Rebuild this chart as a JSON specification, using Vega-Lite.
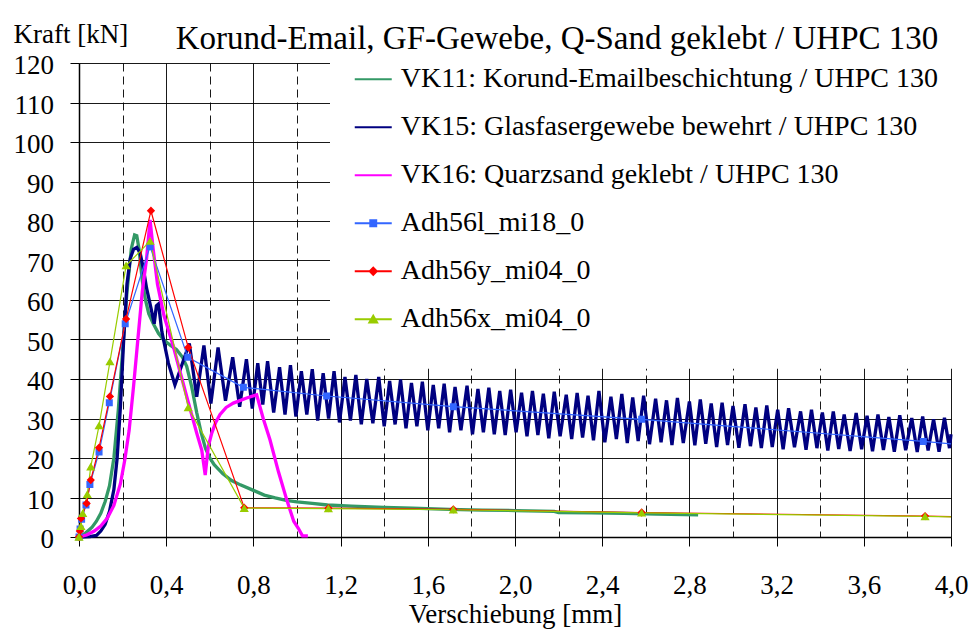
{
"$schema": "https://vega.github.io/schema/vega-lite/v6.json",
"width": 872, "height": 474,
"autosize": {"type": "none"},
"padding": {"left": 79, "top": 63, "right": 21, "bottom": 99},
"background": "white",
"config": {"view": {"stroke": null}, "font": "Liberation Serif"},
"title": {"text": "Korund-Email, GF-Gewebe, Q-Sand geklebt / UHPC 130", "font": "Liberation Serif", "fontSize": 33, "fontWeight": "normal", "color": "black", "anchor": "middle", "frame": "group", "dx": 42, "dy": 27, "offset": -35, "baseline": "alphabetic"},
"datasets": {
"vk": [
{"s":"VK11","x":0,"y":0},{"s":"VK11","x":0.03,"y":1},{"s":"VK11","x":0.06,"y":2.5},{"s":"VK11","x":0.08,"y":4},{"s":"VK11","x":0.1,"y":6},{"s":"VK11","x":0.12,"y":9},{"s":"VK11","x":0.14,"y":13},{"s":"VK11","x":0.16,"y":20},{"s":"VK11","x":0.18,"y":32},{"s":"VK11","x":0.2,"y":47},{"s":"VK11","x":0.22,"y":62},{"s":"VK11","x":0.24,"y":73},{"s":"VK11","x":0.255,"y":76.5},{"s":"VK11","x":0.265,"y":76.3},{"s":"VK11","x":0.275,"y":73},{"s":"VK11","x":0.29,"y":65},{"s":"VK11","x":0.305,"y":60},{"s":"VK11","x":0.32,"y":56.5},{"s":"VK11","x":0.341,"y":54},{"s":"VK11","x":0.365,"y":51.5},{"s":"VK11","x":0.387,"y":50},{"s":"VK11","x":0.42,"y":48.5},{"s":"VK11","x":0.448,"y":47.4},{"s":"VK11","x":0.475,"y":45.5},{"s":"VK11","x":0.494,"y":43.2},{"s":"VK11","x":0.517,"y":38},{"s":"VK11","x":0.54,"y":31.5},{"s":"VK11","x":0.56,"y":26.5},{"s":"VK11","x":0.58,"y":22.5},{"s":"VK11","x":0.6,"y":20},{"s":"VK11","x":0.62,"y":18.3},{"s":"VK11","x":0.66,"y":16},{"s":"VK11","x":0.7,"y":14.3},{"s":"VK11","x":0.74,"y":13.2},{"s":"VK11","x":0.8,"y":11.8},{"s":"VK11","x":0.85,"y":10.6},{"s":"VK11","x":0.9,"y":9.9},{"s":"VK11","x":0.95,"y":9.3},{"s":"VK11","x":1.0,"y":8.9},{"s":"VK11","x":1.07,"y":8.5},{"s":"VK11","x":1.14,"y":8.1},{"s":"VK11","x":1.25,"y":7.8},{"s":"VK11","x":1.4,"y":7.5},{"s":"VK11","x":1.53,"y":7.3},{"s":"VK11","x":1.7,"y":7.0},{"s":"VK11","x":1.85,"y":6.8},{"s":"VK11","x":2.0,"y":6.7},{"s":"VK11","x":2.18,"y":6.5},{"s":"VK11","x":2.2,"y":6.2},{"s":"VK11","x":2.35,"y":6.1},{"s":"VK11","x":2.5,"y":6.0},{"s":"VK11","x":2.65,"y":5.8},{"s":"VK11","x":2.84,"y":5.6},
{"s":"VK15","x":0,"y":0},{"s":"VK15","x":0.05,"y":0.1},{"s":"VK15","x":0.08,"y":0.4},{"s":"VK15","x":0.1,"y":1.5},{"s":"VK15","x":0.12,"y":3.2},{"s":"VK15","x":0.14,"y":6.5},{"s":"VK15","x":0.16,"y":12},{"s":"VK15","x":0.175,"y":20},{"s":"VK15","x":0.19,"y":33},{"s":"VK15","x":0.205,"y":50},{"s":"VK15","x":0.22,"y":64},{"s":"VK15","x":0.235,"y":70.5},{"s":"VK15","x":0.25,"y":72.8},{"s":"VK15","x":0.265,"y":73.3},{"s":"VK15","x":0.28,"y":72},{"s":"VK15","x":0.295,"y":68},{"s":"VK15","x":0.31,"y":63},{"s":"VK15","x":0.33,"y":58},{"s":"VK15","x":0.345,"y":54},{"s":"VK15","x":0.355,"y":58.5},{"s":"VK15","x":0.365,"y":59},{"s":"VK15","x":0.38,"y":52},{"s":"VK15","x":0.41,"y":44},{"s":"VK15","x":0.44,"y":38.5},
{"s":"VK15","x":0.506,"y":49},{"s":"VK15","x":0.54,"y":35.5},{"s":"VK15","x":0.573,"y":48.5},{"s":"VK15","x":0.605,"y":33.8},{"s":"VK15","x":0.638,"y":48},{"s":"VK15","x":0.672,"y":34.5},{"s":"VK15","x":0.705,"y":45.5},{"s":"VK15","x":0.737,"y":33},{"s":"VK15","x":0.768,"y":45},{"s":"VK15","x":0.795,"y":32.5},{"s":"VK15","x":0.82,"y":44},{"s":"VK15","x":0.843,"y":33.5},{"s":"VK15","x":0.865,"y":44.5},{"s":"VK15","x":0.893,"y":31.5},{"s":"VK15","x":0.92,"y":43},{"s":"VK15","x":0.945,"y":31},{"s":"VK15","x":0.97,"y":43.5},{"s":"VK15","x":0.995,"y":30.5},{"s":"VK15","x":1.02,"y":42},{"s":"VK15","x":1.045,"y":31},{"s":"VK15","x":1.07,"y":42.5},{"s":"VK15","x":1.095,"y":29.5},{"s":"VK15","x":1.12,"y":41.5},{"s":"VK15","x":1.145,"y":30},{"s":"VK15","x":1.17,"y":42},{"s":"VK15","x":1.195,"y":29},{"s":"VK15","x":1.22,"y":40.5},{"s":"VK15","x":1.245,"y":29.5},{"s":"VK15","x":1.27,"y":41},{"s":"VK15","x":1.295,"y":28.5},{"s":"VK15","x":1.32,"y":40},{"s":"VK15","x":1.348,"y":28.8},{"s":"VK15","x":1.375,"y":40.5},{"s":"VK15","x":1.4,"y":28},{"s":"VK15","x":1.425,"y":39.5},{"s":"VK15","x":1.45,"y":28.5},{"s":"VK15","x":1.475,"y":39.8},{"s":"VK15","x":1.5,"y":27.5},{"s":"VK15","x":1.525,"y":39},{"s":"VK15","x":1.55,"y":28},{"s":"VK15","x":1.575,"y":39.3},{"s":"VK15","x":1.6,"y":27},{"s":"VK15","x":1.625,"y":38.5},{"s":"VK15","x":1.65,"y":27.5},{"s":"VK15","x":1.675,"y":38.8},{"s":"VK15","x":1.7,"y":26.5},{"s":"VK15","x":1.725,"y":38},{"s":"VK15","x":1.752,"y":27},{"s":"VK15","x":1.78,"y":38.3},{"s":"VK15","x":1.805,"y":26},{"s":"VK15","x":1.83,"y":37.5},{"s":"VK15","x":1.855,"y":26.5},{"s":"VK15","x":1.88,"y":37.8},{"s":"VK15","x":1.905,"y":26},{"s":"VK15","x":1.93,"y":37},{"s":"VK15","x":1.955,"y":25.8},{"s":"VK15","x":1.98,"y":37.3},{"s":"VK15","x":2.005,"y":26.5},{"s":"VK15","x":2.03,"y":36.5},{"s":"VK15","x":2.055,"y":25.5},{"s":"VK15","x":2.08,"y":37},{"s":"VK15","x":2.105,"y":25.8},{"s":"VK15","x":2.13,"y":36.3},{"s":"VK15","x":2.155,"y":25},{"s":"VK15","x":2.18,"y":36.8},{"s":"VK15","x":2.207,"y":25.5},{"s":"VK15","x":2.235,"y":36},{"s":"VK15","x":2.26,"y":24.8},{"s":"VK15","x":2.285,"y":36.5},{"s":"VK15","x":2.31,"y":25.2},{"s":"VK15","x":2.335,"y":35.8},{"s":"VK15","x":2.36,"y":24.5},{"s":"VK15","x":2.385,"y":37},{"s":"VK15","x":2.412,"y":24},{"s":"VK15","x":2.44,"y":35.5},{"s":"VK15","x":2.465,"y":24.8},{"s":"VK15","x":2.49,"y":36.2},{"s":"VK15","x":2.515,"y":23.8},{"s":"VK15","x":2.54,"y":35.3},{"s":"VK15","x":2.565,"y":24.3},{"s":"VK15","x":2.59,"y":35.8},{"s":"VK15","x":2.617,"y":23.5},{"s":"VK15","x":2.645,"y":35},{"s":"VK15","x":2.67,"y":24},{"s":"VK15","x":2.695,"y":34.6},{"s":"VK15","x":2.72,"y":23.3},{"s":"VK15","x":2.745,"y":35.2},{"s":"VK15","x":2.772,"y":23.8},{"s":"VK15","x":2.8,"y":34.3},{"s":"VK15","x":2.825,"y":23.2},{"s":"VK15","x":2.85,"y":34.8},{"s":"VK15","x":2.875,"y":23.6},{"s":"VK15","x":2.9,"y":33.8},{"s":"VK15","x":2.925,"y":22.8},{"s":"VK15","x":2.95,"y":34},{"s":"VK15","x":2.975,"y":23.3},{"s":"VK15","x":3.0,"y":33.2},{"s":"VK15","x":3.027,"y":22.6},{"s":"VK15","x":3.055,"y":33.6},{"s":"VK15","x":3.08,"y":23},{"s":"VK15","x":3.105,"y":32.8},{"s":"VK15","x":3.13,"y":22.5},{"s":"VK15","x":3.155,"y":33.3},{"s":"VK15","x":3.18,"y":22.8},{"s":"VK15","x":3.205,"y":32.2},{"s":"VK15","x":3.23,"y":22.2},{"s":"VK15","x":3.255,"y":32.6},{"s":"VK15","x":3.282,"y":22.7},{"s":"VK15","x":3.31,"y":31.8},{"s":"VK15","x":3.335,"y":22.1},{"s":"VK15","x":3.36,"y":32.2},{"s":"VK15","x":3.385,"y":22.5},{"s":"VK15","x":3.41,"y":31.5},{"s":"VK15","x":3.435,"y":21.9},{"s":"VK15","x":3.46,"y":31.8},{"s":"VK15","x":3.485,"y":22.3},{"s":"VK15","x":3.51,"y":31},{"s":"VK15","x":3.537,"y":21.8},{"s":"VK15","x":3.565,"y":31.4},{"s":"VK15","x":3.59,"y":22.2},{"s":"VK15","x":3.615,"y":30.7},{"s":"VK15","x":3.64,"y":21.7},{"s":"VK15","x":3.665,"y":31},{"s":"VK15","x":3.69,"y":22},{"s":"VK15","x":3.715,"y":30.4},{"s":"VK15","x":3.74,"y":21.6},{"s":"VK15","x":3.765,"y":30.8},{"s":"VK15","x":3.792,"y":22},{"s":"VK15","x":3.82,"y":30.1},{"s":"VK15","x":3.845,"y":21.5},{"s":"VK15","x":3.87,"y":30.5},{"s":"VK15","x":3.895,"y":21.9},{"s":"VK15","x":3.92,"y":29.8},{"s":"VK15","x":3.945,"y":21.6},{"s":"VK15","x":3.97,"y":30.2},{"s":"VK15","x":3.993,"y":22.5},{"s":"VK15","x":4.0,"y":26},
{"s":"VK16","x":0,"y":0},{"s":"VK16","x":0.035,"y":0.5},{"s":"VK16","x":0.07,"y":1.5},{"s":"VK16","x":0.1,"y":2.8},{"s":"VK16","x":0.13,"y":4.8},{"s":"VK16","x":0.16,"y":8},{"s":"VK16","x":0.19,"y":13.5},{"s":"VK16","x":0.21,"y":19.5},{"s":"VK16","x":0.23,"y":27},{"s":"VK16","x":0.25,"y":38},{"s":"VK16","x":0.27,"y":50},{"s":"VK16","x":0.29,"y":62},{"s":"VK16","x":0.31,"y":70.5},{"s":"VK16","x":0.326,"y":80.3},{"s":"VK16","x":0.34,"y":73},{"s":"VK16","x":0.36,"y":64},{"s":"VK16","x":0.39,"y":56},{"s":"VK16","x":0.433,"y":48.2},{"s":"VK16","x":0.47,"y":40.5},{"s":"VK16","x":0.494,"y":35.6},{"s":"VK16","x":0.54,"y":26.3},{"s":"VK16","x":0.563,"y":22},{"s":"VK16","x":0.579,"y":15.7},{"s":"VK16","x":0.593,"y":22.9},{"s":"VK16","x":0.609,"y":26.3},{"s":"VK16","x":0.627,"y":29},{"s":"VK16","x":0.647,"y":31},{"s":"VK16","x":0.675,"y":32.8},{"s":"VK16","x":0.708,"y":33.9},{"s":"VK16","x":0.769,"y":35.2},{"s":"VK16","x":0.815,"y":36},{"s":"VK16","x":0.845,"y":30},{"s":"VK16","x":0.876,"y":24.6},{"s":"VK16","x":0.915,"y":16.5},{"s":"VK16","x":0.953,"y":9.4},{"s":"VK16","x":0.985,"y":4},{"s":"VK16","x":1.006,"y":2.2},{"s":"VK16","x":1.025,"y":0.3},{"s":"VK16","x":1.05,"y":0.3}
],
"adh": [
{"s":"Adh56l","x":0,"y":0},{"s":"Adh56l","x":0.005,"y":2},{"s":"Adh56l","x":0.012,"y":4.5},{"s":"Adh56l","x":0.032,"y":8.1},{"s":"Adh56l","x":0.05,"y":13.3},{"s":"Adh56l","x":0.092,"y":21.5},{"s":"Adh56l","x":0.139,"y":34},{"s":"Adh56l","x":0.212,"y":54},{"s":"Adh56l","x":0.326,"y":73.5},{"s":"Adh56l","x":0.499,"y":45.5},{"s":"Adh56l","x":0.754,"y":37.9},{"s":"Adh56l","x":1.136,"y":35.7},{"s":"Adh56l","x":1.717,"y":33},{"s":"Adh56l","x":2.581,"y":29.8},{"s":"Adh56l","x":3.873,"y":24.2},{"s":"Adh56l","x":4.0,"y":23.6},
{"s":"Adh56y","x":0,"y":0},{"s":"Adh56y","x":0.004,"y":1.5},{"s":"Adh56y","x":0.009,"y":4.7},{"s":"Adh56y","x":0.035,"y":8.5},{"s":"Adh56y","x":0.054,"y":14.4},{"s":"Adh56y","x":0.092,"y":22.6},{"s":"Adh56y","x":0.142,"y":35.6},{"s":"Adh56y","x":0.216,"y":55.2},{"s":"Adh56y","x":0.33,"y":82.6},{"s":"Adh56y","x":0.501,"y":48},{"s":"Adh56y","x":0.758,"y":7.4},{"s":"Adh56y","x":1.144,"y":7.3},{"s":"Adh56y","x":1.717,"y":7.0},{"s":"Adh56y","x":2.581,"y":6.2},{"s":"Adh56y","x":3.881,"y":5.3},{"s":"Adh56y","x":4.0,"y":5.15},
{"s":"Adh56x","x":0,"y":0},{"s":"Adh56x","x":0.009,"y":2.7},{"s":"Adh56x","x":0.017,"y":6},{"s":"Adh56x","x":0.038,"y":10.8},{"s":"Adh56x","x":0.054,"y":17.8},{"s":"Adh56x","x":0.092,"y":28.2},{"s":"Adh56x","x":0.142,"y":44.4},{"s":"Adh56x","x":0.216,"y":68.7},{"s":"Adh56x","x":0.326,"y":74.9},{"s":"Adh56x","x":0.501,"y":32.8},{"s":"Adh56x","x":0.758,"y":7.3},{"s":"Adh56x","x":1.144,"y":7.2},{"s":"Adh56x","x":1.717,"y":6.9},{"s":"Adh56x","x":2.581,"y":6.1},{"s":"Adh56x","x":3.881,"y":5.2},{"s":"Adh56x","x":4.0,"y":5.1}
]
},
"encoding": {
  "x": {"field": "x", "type": "quantitative",
    "scale": {"domain": [0, 4], "nice": false, "zero": false},
    "axis": {
      "values": [0,0.2,0.4,0.6,0.8,1.0,1.2,1.4,1.6,1.8,2.0,2.2,2.4,2.6,2.8,3.0,3.2,3.4,3.6,3.8,4.0],
      "labelExpr": "round(datum.value*10) % 4 == 0 ? replace(format(datum.value, '.1f'), '.', ',') : ''",
      "labelOverlap": false, "labelFlush": false,
      "labelFont": "Liberation Serif", "labelFontSize": 27, "labelColor": "black",
      "labelBaseline": "alphabetic", "labelPadding": 47,
      "tickSize": 9, "tickColor": "black", "tickWidth": 1,
      "tickOpacity": {"condition": {"test": "round(datum.value*10) % 4 == 0", "value": 1}, "value": 0},
      "domainColor": "black", "domainWidth": 1.5,
      "grid": true, "gridColor": "black", "gridWidth": 1, "gridOpacity": 0.9,
      "gridDash": {"condition": {"test": "round(datum.value*10) % 4 == 2", "value": [8, 5]}, "value": []},
      "title": "Verschiebung [mm]", "titleFont": "Liberation Serif", "titleFontSize": 27, "titleFontWeight": "normal", "titleColor": "black",
      "titleX": 436, "titleY": 85, "titleAlign": "center", "titleBaseline": "alphabetic"
    }},
  "y": {"field": "y", "type": "quantitative",
    "scale": {"domain": [0, 120], "nice": false},
    "axis": {
      "values": [0,10,20,30,40,50,60,70,80,90,100,110,120],
      "labelFont": "Liberation Serif", "labelFontSize": 27, "labelColor": "black",
      "labelBaseline": "alphabetic", "labelOffset": 10.5, "labelPadding": 16.5, "labelOverlap": false, "labelFlush": false,
      "tickSize": 9, "tickColor": "black",
      "domainColor": "black", "domainWidth": 1.5,
      "grid": true, "gridColor": "black", "gridWidth": 1, "gridOpacity": 0.9,
      "title": "Kraft [kN]", "titleFont": "Liberation Serif", "titleFontSize": 27, "titleFontWeight": "normal", "titleColor": "black",
      "titleAngle": 0, "titleAlign": "left", "titleBaseline": "alphabetic", "titleX": -66, "titleY": -21
    }}
},
"layer": [
  {"data": {"name": "vk"},
   "mark": {"type": "line", "strokeWidth": 3.3, "interpolate": "linear"},
   "encoding": {
     "color": {"field": "s", "type": "nominal",
       "scale": {"domain": ["VK11","VK15","VK16","Adh56l","Adh56y","Adh56x"], "range": ["#339966","#000080","#FF00FF","#3366FF","#FF0000","#99CC00"]},
       "legend": {
         "orient": "none", "legendX": 251, "legendY": -38.2, "title": null,
         "fillColor": "white", "padding": 35, "symbolSize": 1369, "symbolType": "stroke", "symbolStrokeWidth": 2,
         "symbolOffset": -11.25,
         "labelFont": "Liberation Serif", "labelFontSize": 28, "labelColor": "black", "labelOffset": 8, "rowPadding": 14, "labelLimit": 800,
         "labelExpr": "datum.label == 'VK11' ? 'VK11: Korund-Emailbeschichtung / UHPC 130' : datum.label == 'VK15' ? 'VK15: Glasfasergewebe bewehrt / UHPC 130' : datum.label == 'VK16' ? 'VK16: Quarzsand geklebt / UHPC 130' : datum.label == 'Adh56l' ? 'Adh56l_mi18_0' : datum.label == 'Adh56y' ? 'Adh56y_mi04_0' : 'Adh56x_mi04_0'"
       }}
   }},
  {"data": {"name": "adh"},
   "mark": {"type": "line", "strokeWidth": 1.2},
   "encoding": {"color": {"field": "s", "type": "nominal", "scale": {"domain": ["VK11","VK15","VK16","Adh56l","Adh56y","Adh56x"], "range": ["#339966","#000080","#FF00FF","#3366FF","#FF0000","#99CC00"]}}}},
  {"data": {"name": "adh"},
   "transform": [{"filter": {"field": "x", "lt": 4}}],
   "mark": {"type": "point", "filled": true, "opacity": 1, "size": 1914},
   "encoding": {
     "color": {"field": "s", "type": "nominal", "scale": {"domain": ["VK11","VK15","VK16","Adh56l","Adh56y","Adh56x"], "range": ["#339966","#000080","#FF00FF","#3366FF","#FF0000","#99CC00"]}},
     "shape": {"field": "s", "type": "nominal", "scale": {"domain": ["VK11","VK15","VK16","Adh56l","Adh56y","Adh56x"], "range": ["stroke","stroke","stroke","M-1,0H1M-0.16,-0.16H0.16V0.16H-0.16Z","M-1,0H1M0,-0.19L0.19,0L0,0.19L-0.19,0Z","M-1,0H1M0,-0.19L0.21,0.17H-0.21Z"]}}
   }}
]
}
